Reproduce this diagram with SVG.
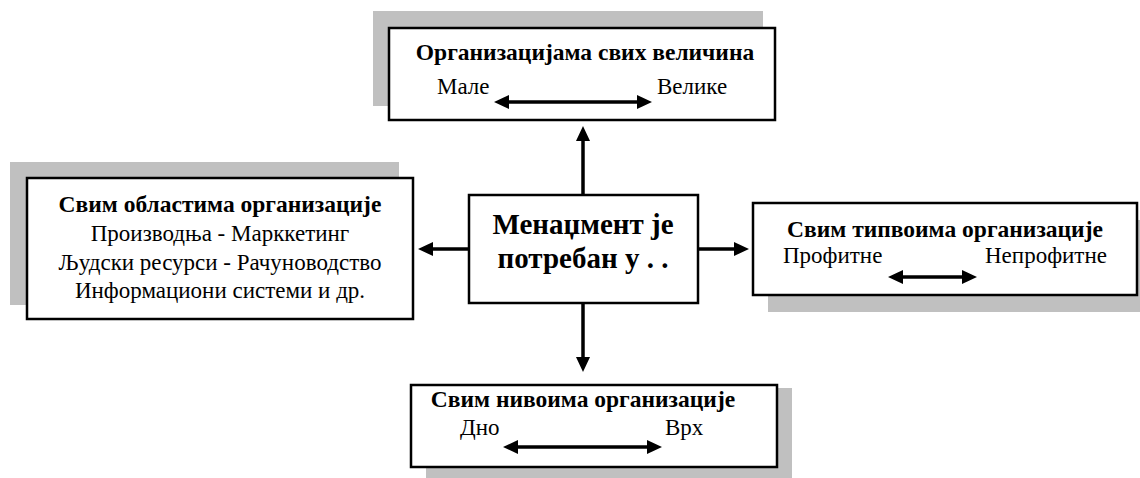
<svg xmlns="http://www.w3.org/2000/svg" width="1140" height="478" viewBox="0 0 1140 478">
  <style>
    .shadow { fill: #c0c0c0; }
    .box { fill: #ffffff; stroke: #000000; stroke-width: 2.5; }
    .title { font-family: "Liberation Serif", "Times New Roman", serif; font-weight: bold; font-size: 23.5px; fill: #000; text-anchor: middle; }
    .txt { font-family: "Liberation Serif", "Times New Roman", serif; font-size: 23px; fill: #000; }
    .mid { text-anchor: middle; }
    .big { font-family: "Liberation Serif", "Times New Roman", serif; font-weight: bold; font-size: 29px; fill: #000; text-anchor: middle; }
    .conn { stroke: #000; stroke-width: 3.5; fill: none; }
  </style>
  <defs>
    <marker id="head" markerUnits="userSpaceOnUse" markerWidth="16" markerHeight="16" refX="1" refY="8" orient="auto-start-reverse" viewBox="0 0 16 16">
      <path d="M0,1 L15,8 L0,15 Z" fill="#000"/>
    </marker>
  </defs>

  <rect width="1140" height="478" fill="#ffffff"/>

  <!-- connectors from the centre box -->
  <g id="connectors">
    <line class="conn" x1="583" y1="195" x2="583" y2="140" marker-end="url(#head)"/>
    <line class="conn" x1="469" y1="249" x2="432" y2="249" marker-end="url(#head)"/>
    <line class="conn" x1="698" y1="249" x2="735" y2="249" marker-end="url(#head)"/>
    <line class="conn" x1="583" y1="303" x2="583" y2="358" marker-end="url(#head)"/>
  </g>

  <!-- centre -->
  <g id="center">
    <rect class="box" x="469" y="195" width="229" height="108"/>
    <text class="big" x="583" y="234">Менаџмент је</text>
    <text class="big" x="583" y="268">потребан у . .</text>
  </g>

  <!-- top: sizes -->
  <g id="sizes">
    <rect class="shadow" x="373" y="11" width="390" height="95"/>
    <rect class="box" x="389" y="28" width="386" height="92"/>
    <text class="title" x="585" y="60">Организацијама свих величина</text>
    <text class="txt" x="437" y="94">Мале</text>
    <text class="txt" x="657" y="94">Велике</text>
    <line class="conn" x1="508" y1="102" x2="638" y2="102" marker-start="url(#head)" marker-end="url(#head)"/>
  </g>

  <!-- left: areas -->
  <g id="areas">
    <rect class="shadow" x="10" y="162" width="389" height="143"/>
    <rect class="box" x="27" y="178" width="386" height="141"/>
    <text class="title" x="220" y="212">Свим областима организације</text>
    <text class="txt mid" x="220" y="241">Производња - Марккетинг</text>
    <text class="txt mid" x="220" y="270">Људски ресурси - Рачуноводство</text>
    <text class="txt mid" x="220" y="298">Информациони системи и др.</text>
  </g>

  <!-- right: types -->
  <g id="types">
    <rect class="shadow" x="768" y="220" width="384" height="92"/>
    <rect class="box" x="753" y="203" width="384" height="92"/>
    <text class="title" x="945" y="237">Свим типвоима организације</text>
    <text class="txt" x="783" y="263">Профитне</text>
    <text class="txt" x="985" y="263">Непрофитне</text>
    <line class="conn" x1="902" y1="277" x2="963" y2="277" marker-start="url(#head)" marker-end="url(#head)"/>
  </g>

  <!-- bottom: levels -->
  <g id="levels">
    <rect class="shadow" x="426" y="388" width="366" height="94"/>
    <rect class="box" x="411" y="385" width="366" height="82"/>
    <text class="title" x="583" y="407">Свим нивоима организације</text>
    <text class="txt" x="460" y="435">Дно</text>
    <text class="txt" x="665" y="435">Врх</text>
    <line class="conn" x1="517" y1="447" x2="648" y2="447" marker-start="url(#head)" marker-end="url(#head)"/>
  </g>
</svg>
